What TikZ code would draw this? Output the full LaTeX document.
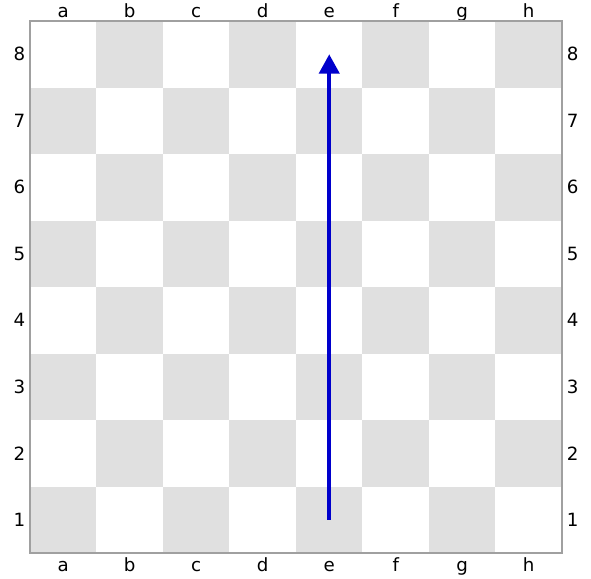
\documentclass[tikz,border=0pt]{standalone}
\usepackage{fontspec}
\setsansfont{DejaVu Sans}
\usetikzlibrary{arrows.meta}
\definecolor{DarkSquare}{RGB}{224,224,224}
\definecolor{MoveBlue}{RGB}{0,0,204}
\definecolor{FrameGray}{RGB}{160,160,160}
\tikzset{
  boardsq/.style={draw=none,minimum size=1cm,inner sep=0pt,outer sep=0pt},
  darksq/.style={boardsq,fill=DarkSquare},
  lightsq/.style={boardsq,fill=white},
  coordlabel/.style={font=\sffamily\fontsize{7.8}{9}\selectfont,inner sep=0pt},
  filelabel/.style={coordlabel,anchor=base},
  movearrow/.style={-{Triangle[length=2.9mm,width=3mm]},
    line width=1.7pt,draw=MoveBlue},
}
\begin{document}
\begin{tikzpicture}
  \useasboundingbox (-0.451,-0.376) rectangle (8.436,8.316);
  % squares, a1 dark
  \foreach \f [count=\i from 0] in {a,b,c,d,e,f,g,h} {
    \foreach \r in {1,...,8} {
      \pgfmathtruncatemacro{\parity}{mod(\i+\r,2)}
      \ifnum\parity=1 \def\sqstyle{darksq}\else\def\sqstyle{lightsq}\fi
      \node[\sqstyle] (\f\r) at (\i+0.5,\r-0.5) {};
    }
    \node[filelabel] (top-\f) at (\i+0.5,8.06) {\f};
    \node[filelabel] (bot-\f) at (\i+0.5,-0.28) {\f};
  }
  \foreach \r in {1,...,8} {
    \node[coordlabel] (left-\r) at (-0.16,\r-0.5) {\r};
    \node[coordlabel] (right-\r) at (8.16,\r-0.5) {\r};
  }
  \draw[FrameGray,line width=0.5pt] (a1.south west) rectangle (h8.north east);
  % the move
  \draw[movearrow] (e1.center) -- (e8.center);
\end{tikzpicture}
\end{document}
